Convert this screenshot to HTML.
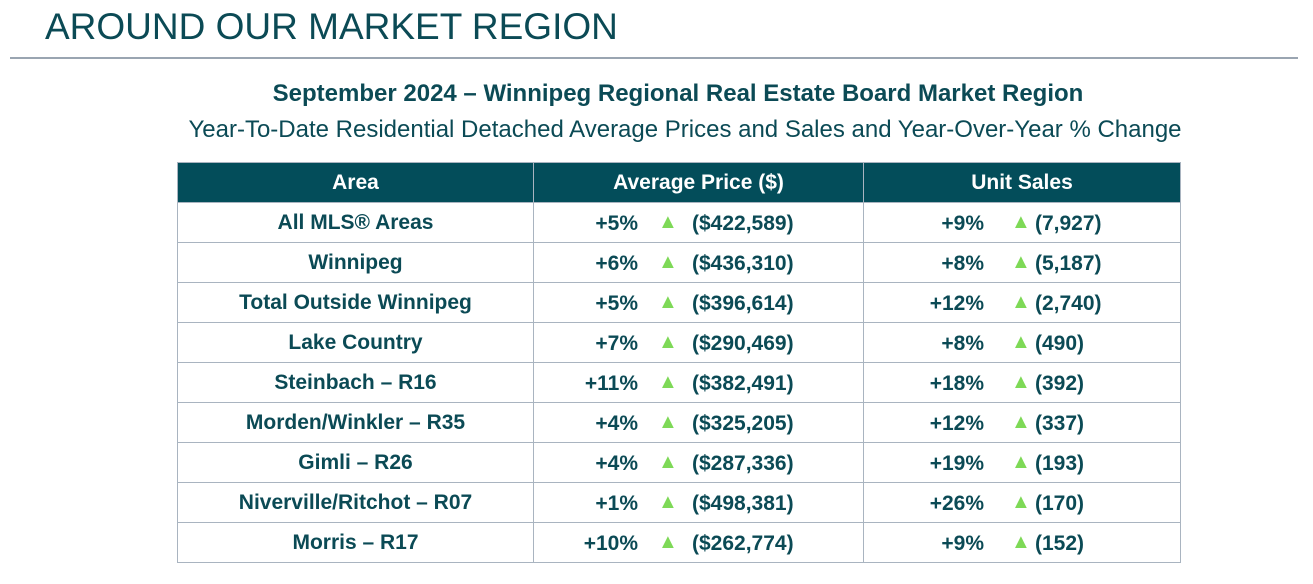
<!DOCTYPE html>
<html><head><meta charset="utf-8">
<style>
body{margin:0;width:1313px;height:584px;background:#fff;font-family:"Liberation Sans",Arial,sans-serif;position:relative;overflow:hidden;color:#0b4a55}
.h1{position:absolute;left:45px;top:6px;font-size:37px;color:#0b4a55;letter-spacing:0px}
.rule{position:absolute;left:10px;top:57px;width:1288px;height:2px;background:#9aa5b1}
.t1{position:absolute;left:0;width:1356px;top:80px;text-align:center;font-size:24px;font-weight:bold}
.t2{position:absolute;left:0;width:1370px;top:116px;text-align:center;font-size:24px}
table{position:absolute;left:177px;top:162px;border-collapse:collapse;}
td,th{border:1.5px solid #a9b4c0;height:39px;padding:0;font-size:21px;font-weight:bold;position:relative}
th{background:#034d5a;color:#fff;border-color:#a9b4c0}
td.a{text-align:center}
.p{position:absolute;right:0;top:9px}
.tri{position:absolute;top:8px;color:#7ed957;font-size:20px}
.v{position:absolute;top:9px}
</style></head><body>
<div class="h1">AROUND OUR MARKET REGION</div>
<div class="rule"></div>
<div class="t1">September 2024 – Winnipeg Regional Real Estate Board Market Region</div>
<div class="t2">Year-To-Date Residential Detached Average Prices and Sales and Year-Over-Year % Change</div>
<table>
<tr><th style="width:355px">Area</th><th style="width:329px">Average Price ($)</th><th style="width:316px">Unit Sales</th></tr>
<tbody id="tb"></tbody>
</table>
<script>
const areas=["All MLS® Areas","Winnipeg","Total Outside Winnipeg","Lake Country","Steinbach – R16","Morden/Winkler – R35","Gimli – R26","Niverville/Ritchot – R07","Morris – R17"];
const pricePct=["+5%","+6%","+5%","+7%","+11%","+4%","+4%","+1%","+10%"];
const prices=["($422,589)","($436,310)","($396,614)","($290,469)","($382,491)","($325,205)","($287,336)","($498,381)","($262,774)"];
const salesPct=["+9%","+8%","+12%","+8%","+18%","+12%","+19%","+26%","+9%"];
const sales=["(7,927)","(5,187)","(2,740)","(490)","(392)","(337)","(193)","(170)","(152)"];
const tb=document.getElementById('tb');
function cell(pct,val,pr){
  const td=document.createElement('td');
  td.innerHTML=`<span class="p" style="right:${pr}px">${pct}</span><span class="tri" style="left:${pr===225?124:147}px">▲</span><span class="v" style="left:${pr===225?158:171}px">${val}</span>`;
  return td;
}
areas.forEach((a,i)=>{
  const tr=document.createElement('tr');
  
  
  const t=document.createElement('td');t.className='a';t.textContent=a;
  
  
  tr.appendChild(t);
  const c1=cell(pricePct[i],prices[i],225);
  
  
  tr.appendChild(c1);
  const c2=cell(salesPct[i],sales[i],196);
  
  
  tr.appendChild(c2);
  tb.appendChild(tr);
});
</script>
</body></html>
